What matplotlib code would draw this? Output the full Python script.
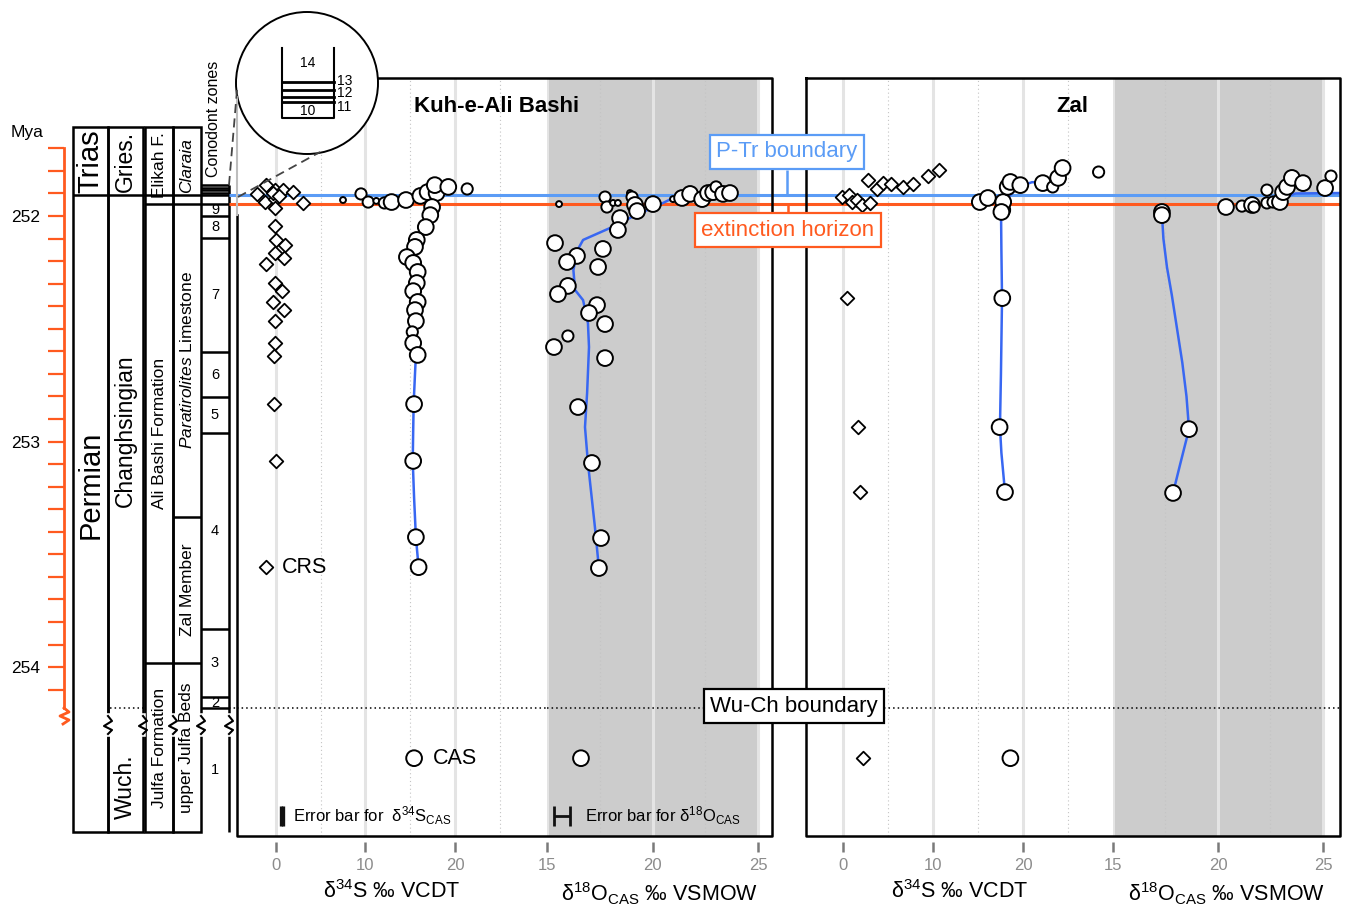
import numpy as np
import matplotlib
matplotlib.use("Agg")
import matplotlib.pyplot as plt
from matplotlib.patches import Circle, Rectangle
from matplotlib.ticker import FixedLocator

plt.rcParams['font.family'] = ['Liberation Sans', 'DejaVu Sans']
plt.rcParams['mathtext.fontset'] = 'custom'
plt.rcParams['mathtext.rm'] = 'Liberation Sans'
plt.rcParams['mathtext.it'] = 'Liberation Sans:italic'
plt.rcParams['mathtext.bf'] = 'Liberation Sans:bold'

# boundaries (Mya)
ptr_age = 251.908      # P-Tr boundary
ext_age = 251.946      # extinction horizon
wuch_age = 254.182     # Wuchiapingian-Changhsingian boundary
age_top, age_bot = 251.388, 254.749
col_top, col_bot = 251.605, 254.732

# --- Kuh-e-Ali Bashi ---
kab_crs_d34s = [-1.1, -2.1, -0.1, 0.8, 1.9, -1.2, -0.1, -0.1, 3.1, -0.3, 0.4, -0.1, 0.1, 1.1,
                -0.1, 0.9, -1.1, -0.1, 0.7, -0.3, 0.9, -0.1, -0.1, -0.2, -0.2, 0.1, -1.1]
kab_crs_age = [251.863, 251.902, 251.885, 251.885, 251.894, 251.938, 251.925, 251.965, 251.942,
               251.898, 251.911, 252.044, 252.106, 252.129, 252.164, 252.186, 252.213, 252.297,
               252.333, 252.381, 252.417, 252.466, 252.563, 252.621, 252.834, 253.086, 253.557]

kab_cas_d34s = [7.5, 9.5, 10.3, 11.2, 12.1, 12.9, 14.5, 16.1, 16.9, 17.9, 17.7, 19.2, 21.3, 17.4,
                17.2, 16.7, 15.7, 15.5, 14.6, 15.3, 15.8, 15.7, 15.3, 15.8, 15.5, 15.6, 15.2, 15.3,
                15.8, 15.4, 15.3, 15.6, 15.9, 15.4]
kab_cas_age = [251.929, 251.902, 251.938, 251.933, 251.942, 251.938, 251.929, 251.911, 251.894,
               251.898, 251.863, 251.871, 251.880, 251.960, 251.996, 252.049, 252.106, 252.137,
               252.182, 252.208, 252.248, 252.297, 252.333, 252.381, 252.417, 252.466, 252.514,
               252.563, 252.616, 252.834, 253.086, 253.424, 253.557, 254.404]
kab_cas_size = [1, 2, 2, 1, 2, 3, 3, 3, 3, 3, 3, 3, 2, 3, 3, 3, 3, 3, 3, 3, 3, 3, 3, 3, 3, 3, 2,
                3, 3, 3, 3, 3, 3, 3]

kab_d18o = [15.57, 17.75, 17.84, 18.13, 18.36, 18.93, 19.03, 19.17, 19.27, 20.02, 20.97, 21.40,
            21.78, 22.35, 22.63, 22.87, 23.01, 23.34, 23.67, 18.46, 18.36, 17.65, 15.38, 16.42,
            15.95, 17.42, 15.99, 15.52, 17.37, 16.99, 17.75, 15.99, 15.33, 17.75, 16.47, 17.13,
            17.56, 17.46, 16.61]
kab_o_age = [251.947, 251.916, 251.960, 251.942, 251.942, 251.898, 251.916, 251.951, 251.978,
             251.947, 251.925, 251.920, 251.902, 251.925, 251.898, 251.894, 251.871, 251.902,
             251.898, 252.009, 252.062, 252.146, 252.120, 252.177, 252.204, 252.226, 252.310,
             252.346, 252.395, 252.430, 252.479, 252.532, 252.581, 252.630, 252.847, 253.095,
             253.428, 253.561, 254.404]
kab_o_size = [1, 2, 2, 1, 1, 1, 2, 3, 3, 3, 1, 3, 3, 3, 3, 3, 2, 3, 3, 3, 3, 3, 3, 3, 3, 3, 3,
              3, 3, 3, 3, 2, 3, 3, 3, 3, 3, 3, 3]

kab_s_fit_age = [253.557, 253.424, 253.25, 253.086, 252.95, 252.834, 252.7, 252.616, 252.45,
                 252.3, 252.15, 252.05, 251.98, 251.93]
kab_s_fit = [15.9, 15.6, 15.4, 15.25, 15.3, 15.35, 15.5, 15.6, 15.6, 15.5, 15.6, 16.3, 17.0, 17.6]
kab_o_fit_age = [253.561, 253.379, 253.095, 252.936, 252.785, 252.581, 252.475, 252.373, 252.328,
                 252.239, 252.15, 252.106, 252.053, 252.004, 251.942, 251.920, 251.911]
kab_o_fit = [17.46, 17.27, 16.94, 16.80, 16.90, 16.99, 16.94, 16.71, 16.33, 16.25, 16.45, 16.71,
             17.99, 19.03, 20.50, 20.97, 23.9]

# --- Zal ---
zal_crs_d34s = [-0.1, 0.7, 1.0, 1.6, 2.1, 3.0, 2.8, 3.8, 4.4, 5.3, 6.7, 7.8, 9.4, 10.7,
                0.4, 1.7, 1.9, 2.2]
zal_crs_age = [251.916, 251.907, 251.938, 251.929, 251.951, 251.942, 251.840, 251.880, 251.854,
               251.858, 251.871, 251.858, 251.823, 251.796, 252.364, 252.936, 253.224, 254.404]

zal_cas_d34s = [15.2, 16.1, 17.7, 17.8, 18.3, 18.6, 19.7, 22.2, 23.3, 23.9, 24.4, 28.4, 17.6,
                17.7, 17.4, 18.0, 18.6]
zal_cas_age = [251.938, 251.920, 251.973, 251.938, 251.871, 251.849, 251.863, 251.854, 251.871,
               251.831, 251.787, 251.805, 251.982, 252.364, 252.936, 253.224, 254.404]
zal_cas_size = [3, 3, 3, 3, 3, 3, 3, 3, 2, 3, 3, 2, 3, 3, 3, 3, 3]

zal_d18o = [17.33, 17.33, 20.38, 21.14, 21.62, 21.71, 22.33, 22.33, 22.62, 22.95, 23.10, 23.29,
            23.52, 24.05, 25.10, 25.38, 18.62, 17.86]
zal_o_age = [251.982, 251.996, 251.960, 251.956, 251.951, 251.960, 251.885, 251.942, 251.938,
             251.938, 251.894, 251.871, 251.831, 251.854, 251.876, 251.823, 252.945, 253.228]
zal_o_size = [3, 3, 3, 2, 3, 2, 2, 2, 2, 3, 3, 3, 3, 3, 3, 2, 3, 3]

zal_s_fit_age = [253.224, 253.05, 252.936, 252.7, 252.364, 252.15, 251.982, 251.93, 251.87,
                 251.85, 251.852]
zal_s_fit = [18.0, 17.6, 17.44, 17.55, 17.67, 17.6, 17.56, 18.0, 19.5, 21.0, 22.3]
zal_o_fit_age = [253.228, 253.1, 252.945, 252.8, 252.65, 252.5, 252.35, 252.227, 252.1, 251.99]
zal_o_fit = [17.86, 18.2, 18.62, 18.5, 18.3, 18.05, 17.8, 17.57, 17.4, 17.33]
zal_o_fit_top_age = [251.925, 251.912, 251.900, 251.898]
zal_o_fit_top = [22.9, 23.3, 23.7, 25.8]

# --- stratigraphy ---
system_names = ['Trias', 'Permian']
stage_names = ['Gries.', 'Changhsingian', 'Wuch.']
formation_names = ['Elikah F.', 'Ali Bashi Formation', 'Julfa Formation']
member_names = ['Claraia', r'$\mathit{Paratirolites}$ Limestone', 'Zal Member', 'upper Julfa Beds']
alibashi_base = 253.982
zal_member_top = 253.335
zone_names = ['9', '8', '7', '6', '5', '4', '3', '2', '1']
zone_bounds = [ext_age, 252.000, 252.098, 252.603, 252.803, 252.962, 253.831, 254.133, wuch_age, col_bot]
thin_zone_lines = [251.863, 251.874, 251.885, 251.896]
age_labels = [252, 253, 254]

orange = '#ff5a1f'
blue = '#5b9cf6'
fitblue = '#3867f2'
W, H = 1348, 905
size_map = {1: 18, 2: 65, 3: 128}

fig = plt.figure(figsize=(W / 100, H / 100), dpi=100)


def rect(x0, x1):
    return [x0 / W, 1 - 836 / H, (x1 - x0) / W, 758 / H]


def data_axes(x0, x1, xlim, ticks, minor, band=False):
    ax = fig.add_axes(rect(x0, x1), zorder=2)
    ax.patch.set_visible(False)
    ax.set_xlim(*xlim)
    ax.set_ylim(age_bot, age_top)
    for s in ax.spines.values():
        s.set_visible(False)
    ax.spines['bottom'].set_position(('outward', 4))
    ax.set_yticks([])
    ax.set_xticks(ticks)
    ax.xaxis.set_minor_locator(FixedLocator(minor))
    ax.tick_params(axis='x', which='major', length=7, width=1.8, color='#7a7a7a',
                   labelcolor='#8c8c8c', labelsize=12, pad=5)
    ax.tick_params(axis='x', which='minor', length=0)
    if band:
        ax.axvspan(15, 25, color='#cccccc', lw=0, zorder=0)
    for t in ticks:
        ax.axvline(t, color='#e4e4e4', lw=2.2, zorder=0.5)
    for t in minor:
        ax.axvline(t, color='#c4c4c4', lw=0.8, ls=(0, (1, 2.5)), zorder=0.5)
    ax.axhline(ptr_age, color=blue, lw=2.2, zorder=1)
    ax.axhline(ext_age, color=orange, lw=2.2, zorder=1)
    ax.axhline(wuch_age, color='k', lw=1.1, ls=(0, (1, 2)), zorder=1)
    return ax


def circles(ax, x, y, size):
    ax.scatter(x, y, s=[size_map[k] for k in size], marker='o', facecolor='white',
               edgecolor='black', linewidths=1.4, zorder=3, clip_on=False)


def diamonds(ax, x, y):
    ax.scatter(x, y, s=48, marker='D', facecolor='white', edgecolor='black',
               linewidths=1.3, zorder=3, clip_on=False)


s_label = r'$\mathregular{\delta^{34}}$S ‰ VCDT'
o_label = r'$\mathregular{\delta^{18}O_{CAS}}$ ‰ VSMOW'

# Kuh-e-Ali Bashi
axS1 = data_axes(237, 547, (-4.28, 30.17), [0, 10, 20], [5, 15, 25])
axO1 = data_axes(547, 772, (15, 25.66), [15, 20, 25], [17.5, 22.5], band=True)
# Zal
axS2 = data_axes(806, 1113, (-4.11, 30.0), [0, 10, 20], [5, 15, 25])
axO2 = data_axes(1113, 1340, (15, 25.81), [15, 20, 25], [17.5, 22.5], band=True)

for ax, lab in [(axS1, s_label), (axO1, o_label), (axS2, s_label), (axO2, o_label)]:
    ax.set_xlabel(lab, fontsize=15.5, labelpad=5)

axS1.plot(kab_s_fit, kab_s_fit_age, color=fitblue, lw=1.8, zorder=2)
axO1.plot(kab_o_fit, kab_o_fit_age, color=fitblue, lw=1.8, zorder=2)
axS2.plot(zal_s_fit, zal_s_fit_age, color=fitblue, lw=1.8, zorder=2)
axO2.plot(zal_o_fit, zal_o_fit_age, color=fitblue, lw=1.8, zorder=2)
axO2.plot(zal_o_fit_top, zal_o_fit_top_age, color=fitblue, lw=1.8, zorder=2)

diamonds(axS1, kab_crs_d34s, kab_crs_age)
circles(axS1, kab_cas_d34s, kab_cas_age, kab_cas_size)
circles(axO1, kab_d18o, kab_o_age, kab_o_size)
diamonds(axS2, zal_crs_d34s, zal_crs_age)
circles(axS2, zal_cas_d34s, zal_cas_age, zal_cas_size)
circles(axO2, zal_d18o, zal_o_age, zal_o_size)

axS1.text(0.7, kab_crs_age[-1], 'CRS', fontsize=15.5, va='center', ha='left')
axS1.text(17.5, kab_cas_age[-1], 'CAS', fontsize=15.5, va='center', ha='left')

# error bar legend
err_age = 254.661
axS1.errorbar(0.72, err_age, xerr=0.1, color='#111111', capsize=7, capthick=2.4, lw=2)
axS1.text(1.95, err_age, r'Error bar for  $\mathregular{\delta^{34}S_{CAS}}$', fontsize=12,
          va='center', ha='left')
axO1.errorbar(15.71, err_age, xerr=0.36, color='#111111', capsize=7, capthick=2, lw=2)
axO1.text(16.8, err_age, r'Error bar for $\mathregular{\delta^{18}O_{CAS}}$', fontsize=12,
          va='center', ha='left')

# ---- under layer: columns and horizon lines outside the panels
ax_u = fig.add_axes(rect(0, W), zorder=0)
ax_u.set_xlim(0, W)
ax_u.set_ylim(age_bot, age_top)
ax_u.axis('off')

col_edges = [(73, 108), (108, 143), (145, 173), (173, 201), (201, 229)]
for x0, x1 in col_edges[:4]:
    ax_u.add_patch(Rectangle((x0, col_top), x1 - x0, col_bot - col_top, fill=False,
                             lw=1.8, ec='k', clip_on=False))
ax_u.vlines(229, thin_zone_lines[0], col_bot, color='k', lw=1.8)
ax_u.hlines(ptr_age, 73, 229, color='k', lw=1.8)
ax_u.hlines(ext_age, 145, 229, color='k', lw=1.8)
ax_u.hlines(alibashi_base, 145, 201, color='k', lw=1.8)
ax_u.hlines(zal_member_top, 173, 201, color='k', lw=1.8)
ax_u.hlines(thin_zone_lines, 201, 229, color='k', lw=1.8)
ax_u.hlines(zone_bounds[1:-1], 201, 229, color='k', lw=1.8)
ax_u.hlines(wuch_age, 110, 143, color='k', lw=1.1, linestyles=(0, (1, 2)))
ax_u.hlines(wuch_age, 229, 237, color='k', lw=1.1, linestyles=(0, (1, 2)))
for xa, xb in [(229, 237), (772, 806)]:
    ax_u.hlines(ptr_age, xa, xb, color=blue, lw=2.2)
    ax_u.hlines(ext_age, xa, xb, color=orange, lw=2.2)

# column labels
ax_u.text(90.5, (col_top + ptr_age) / 2, system_names[0], rotation=90, fontsize=21,
          ha='center', va='center')
ax_u.text(90.5, 253.19, system_names[1], rotation=90, fontsize=21, ha='center', va='center')
ax_u.text(125.5, (col_top + ptr_age) / 2, stage_names[0], rotation=90, fontsize=16.5,
          ha='center', va='center')
ax_u.text(125.5, 252.95, stage_names[1], rotation=90, fontsize=16.5, ha='center', va='center')
ax_u.text(125.5, 254.53, stage_names[2], rotation=90, fontsize=16.5, ha='center', va='center')
f_bounds = [col_top, ext_age, alibashi_base, col_bot]
for i, name in enumerate(formation_names):
    ax_u.text(159, (f_bounds[i] + f_bounds[i + 1]) / 2, name, rotation=90, fontsize=12.5,
              ha='center', va='center')
m_bounds = [col_top, ext_age, zal_member_top, alibashi_base, col_bot]
for i, name in enumerate(member_names):
    ax_u.text(187, (m_bounds[i] + m_bounds[i + 1]) / 2, name, rotation=90, fontsize=12.5,
              ha='center', va='center', fontstyle='italic' if i == 0 else 'normal')
for i, name in enumerate(zone_names):
    ax_u.text(215, (zone_bounds[i] + zone_bounds[i + 1]) / 2, name, fontsize=10.5,
              ha='center', va='center')

# ---- age axis
ax_age = fig.add_axes([64 / W, 1 - 836 / H, 0.0005, 758 / H], zorder=1)
ax_age.patch.set_visible(False)
ax_age.set_ylim(age_bot, age_top)
for s in ['top', 'right', 'bottom']:
    ax_age.spines[s].set_visible(False)
ax_age.spines['left'].set_color(orange)
ax_age.spines['left'].set_linewidth(2)
ax_age.spines['left'].set_bounds(251.7, wuch_age)
ax_age.set_xticks([])
ax_age.yaxis.set_major_locator(FixedLocator(age_labels))
ax_age.yaxis.set_minor_locator(FixedLocator(np.round(np.arange(251.7, 254.15, 0.1), 1)))
ax_age.tick_params(axis='y', which='both', length=11.5, width=1.6, color=orange,
                   labelsize=12.5, pad=6)

# ---- over layer: boundary labels
ax_o = fig.add_axes(rect(0, W), zorder=8)
ax_o.set_xlim(0, W)
ax_o.set_ylim(age_bot, age_top)
ax_o.axis('off')
ax_o.vlines(787, 251.796, ptr_age, color=blue, lw=1.8)
ax_o.vlines(788, ext_age, 251.99, color=orange, lw=1.8)
ax_o.text(787, 251.716, 'P-Tr boundary', color=blue, fontsize=16, ha='center', va='center',
          bbox=dict(boxstyle='square,pad=0.28', fc='white', ec=blue, lw=1.6))
ax_o.text(788, 252.062, 'extinction horizon', color=orange, fontsize=16, ha='center',
          va='center', bbox=dict(boxstyle='square,pad=0.28', fc='white', ec=orange, lw=1.6))
ax_o.text(794, 254.173, 'Wu-Ch boundary', color='black', fontsize=16, ha='center',
          va='center', bbox=dict(boxstyle='square,pad=0.28', fc='white', ec='black', lw=1.6))

# ---- pixel layer: frames, inset, titles
ax_p = fig.add_axes([0, 0, 1, 1], zorder=6)
ax_p.set_xlim(0, W)
ax_p.set_ylim(H, 0)
ax_p.axis('off')
fk = dict(color='k', lw=1.8, solid_capstyle='projecting')
ax_p.plot([378, 772, 772, 237, 237], [78, 78, 836, 836, 215], **fk)
ax_p.plot([237, 237], [97, 215], color='#bdbdbd', lw=1.5)
ax_p.plot([806, 1340, 1340, 806, 806], [78, 78, 836, 836, 78], **fk)
ax_p.text(497, 106, 'Kuh-e-Ali Bashi', fontsize=16, fontweight='bold', ha='center', va='center')
ax_p.text(1072, 106, 'Zal', fontsize=16, fontweight='bold', ha='center', va='center')
ax_p.text(27, 132, 'Mya', fontsize=12.5, ha='center', va='center')
ax_p.text(214, 119, 'Conodont zones', rotation=90, fontsize=11.5, ha='center', va='center')

ax_p.plot([229, 237], [185, 90], color='#444444', lw=1.3, ls=(0, (5, 3)))
ax_p.plot([238, 320], [197, 152], color='#444444', lw=1.3, ls=(0, (5, 3)))
ax_p.add_patch(Circle((307, 83), 71, fc='white', ec='k', lw=1.4))
ax_p.plot([282, 282, 334, 334], [48, 118, 118, 48], color='k', lw=1.5)
for yy in [82, 90, 97, 102]:
    ax_p.plot([282, 334], [yy, yy], color='k', lw=2.0)
ax_p.text(308, 63, '14', fontsize=10, ha='center', va='center')
ax_p.text(308, 111, '10', fontsize=10, ha='center', va='center')
for lab, yy in [('13', 81), ('12', 93), ('11', 107)]:
    ax_p.text(337, yy, lab, fontsize=10, ha='left', va='center')

# break marks
for xz in [108, 143, 173, 201, 229]:
    ax_p.plot([xz, xz], [716, 734], color='white', lw=4)
    ax_p.plot([xz, xz + 4, xz - 4, xz + 4, xz], [716, 721, 726, 730, 734], color='k', lw=1.5)
ax_p.plot([64, 69, 60, 69, 63], [708, 712, 716, 720, 724], color=orange, lw=2)

fig.savefig('out.png', dpi=100)
